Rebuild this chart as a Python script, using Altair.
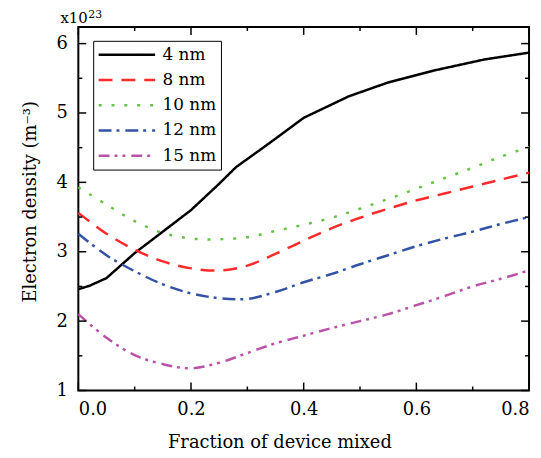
import altair as alt
import pandas as pd

# ---- data ----
series_names = ["4 nm", "8 nm", "10 nm", "12 nm", "15 nm"]

x_4nm = [0.0, 0.02, 0.05, 0.1, 0.15, 0.2, 0.25, 0.28, 0.34, 0.4, 0.48, 0.55, 0.63, 0.72, 0.8]
y_4nm = [2.46, 2.51, 2.62, 2.98, 3.29, 3.60, 3.98, 4.22, 4.57, 4.93, 5.24, 5.44, 5.61, 5.77, 5.87]

x_grid = [0.0, 0.05, 0.1, 0.15, 0.2, 0.25, 0.3, 0.35, 0.4, 0.45, 0.5, 0.55, 0.6, 0.65, 0.7, 0.75, 0.8]
y_8nm = [3.56, 3.26, 3.03, 2.86, 2.76, 2.73, 2.80, 2.97, 3.16, 3.34, 3.49, 3.62, 3.74, 3.84, 3.94, 4.04, 4.14]
y_10nm = [3.93, 3.68, 3.44, 3.27, 3.19, 3.18, 3.21, 3.30, 3.39, 3.49, 3.62, 3.76, 3.91, 4.06, 4.21, 4.37, 4.51]
y_12nm = [3.26, 2.95, 2.72, 2.53, 2.40, 2.33, 2.32, 2.42, 2.56, 2.68, 2.82, 2.95, 3.08, 3.19, 3.29, 3.40, 3.50]
y_15nm = [2.10, 1.76, 1.51, 1.38, 1.32, 1.40, 1.54, 1.68, 1.79, 1.90, 2.00, 2.10, 2.23, 2.36, 2.50, 2.61, 2.73]

x_major = [0.0, 0.2, 0.4, 0.6, 0.8]
x_minor = [0.1, 0.3, 0.5, 0.7]
y_major = [1, 2, 3, 4, 5, 6]
y_minor = [1.5, 2.5, 3.5, 4.5, 5.5]

colors = ["#000000", "#ff2a2a", "#66c244", "#3553a6", "#bb52a8"]
dashes = [[1, 0], [14, 9], [3, 10], [13, 5, 3, 6], [11, 5, 3, 5, 3, 6]]

W, H = 455, 367
FONT = "DejaVu Serif"

df_black = pd.DataFrame({"x": x_4nm, "y": y_4nm, "series": "4 nm"})
parts = []
for name, ys in zip(series_names[1:], [y_8nm, y_10nm, y_12nm, y_15nm]):
    parts.append(pd.DataFrame({"x": x_grid, "y": ys, "series": name}))
df_others = pd.concat(parts, ignore_index=True)

xscale = alt.Scale(domain=[0, 0.8], nice=False, zero=False)
yscale = alt.Scale(domain=[1, 6.24], nice=False, zero=False)

X = alt.X("x:Q", scale=xscale,
          axis=alt.Axis(values=x_major, format=".1f", labelFlush=True, labelPadding=10,
                        title="Fraction of device mixed", titleX=203, titleY=58,
                        titleBaseline="alphabetic", titleAlign="center"))
Y = alt.Y("y:Q", scale=yscale,
          axis=alt.Axis(values=y_major, format="d", labelPadding=11,
                        title="Electron density (m\u207b\u00b3)", titleAngle=270,
                        titleX=-43, titleY=176, titleBaseline="alphabetic",
                        titleAlign="center"))

leg = alt.Legend(title=None, orient="none", legendX=15, legendY=14,
                 symbolType="stroke", symbolSize=3249, symbolStrokeWidth=2.5,
                 labelFont=FONT, labelFontSize=17, labelColor="black", labelOffset=6,
                 padding=4, rowPadding=5.5, clipHeight=20,
                 strokeColor="black", fillColor="white",
                 labelExpr="datum.label + '\u00a0\u00a0'")

color = alt.Color("series:N", scale=alt.Scale(domain=series_names, range=colors), legend=leg)
dash = alt.StrokeDash("series:N", scale=alt.Scale(domain=series_names, range=dashes), legend=leg)

black_line = alt.Chart(df_black).mark_line(strokeWidth=2.5, interpolate="linear").encode(
    x=X, y=Y, color=color, strokeDash=dash)
other_lines = alt.Chart(df_others).mark_line(strokeWidth=2.5, interpolate="catmull-rom").encode(
    x=X, y=Y, color=color, strokeDash=dash)

def xticks(vals, length):
    d = pd.DataFrame({"x": vals})
    b = alt.Chart(d).mark_rule(color="black", strokeWidth=1.5).encode(
        x=X, y=alt.value(H), y2=alt.value(H - length))
    t = alt.Chart(d).mark_rule(color="black", strokeWidth=1.5).encode(
        x=X, y=alt.value(0), y2=alt.value(length))
    return [b, t]

def yticks(vals, length):
    d = pd.DataFrame({"y": vals})
    l = alt.Chart(d).mark_rule(color="black", strokeWidth=1.5).encode(
        y=Y, x=alt.value(0), x2=alt.value(length))
    r = alt.Chart(d).mark_rule(color="black", strokeWidth=1.5).encode(
        y=Y, x=alt.value(W), x2=alt.value(W - length))
    return [l, r]

ticks = xticks(x_major, 8) + xticks(x_minor, 4) + yticks(y_major, 8) + yticks(y_minor, 4)

one = alt.Data(values=[{}])
exp_base = alt.Chart(one).mark_text(font=FONT, fontSize=15, align="left",
                                    baseline="alphabetic", color="black").encode(
    x=alt.value(-18), y=alt.value(-4), text=alt.value("x10"))
exp_sup = alt.Chart(one).mark_text(font=FONT, fontSize=11, align="left",
                                   baseline="alphabetic", color="black").encode(
    x=alt.value(10), y=alt.value(-9), text=alt.value("23"))

chart = alt.layer(black_line, other_lines, *ticks, exp_base, exp_sup).properties(
    width=W, height=H,
    autosize=alt.AutoSizeParams(type="none"),
    padding={"left": 71, "top": 17, "right": 4, "bottom": 64},
).configure_view(stroke="black", strokeWidth=2).configure_axis(
    labelFont=FONT, labelFontSize=18, labelColor="black",
    titleFont=FONT, titleFontSize=18, titleFontWeight="normal", titleColor="black",
    grid=False, domain=False, ticks=False,
)

chart.save("out.html", embed_options={"renderer": "svg", "actions": False})
